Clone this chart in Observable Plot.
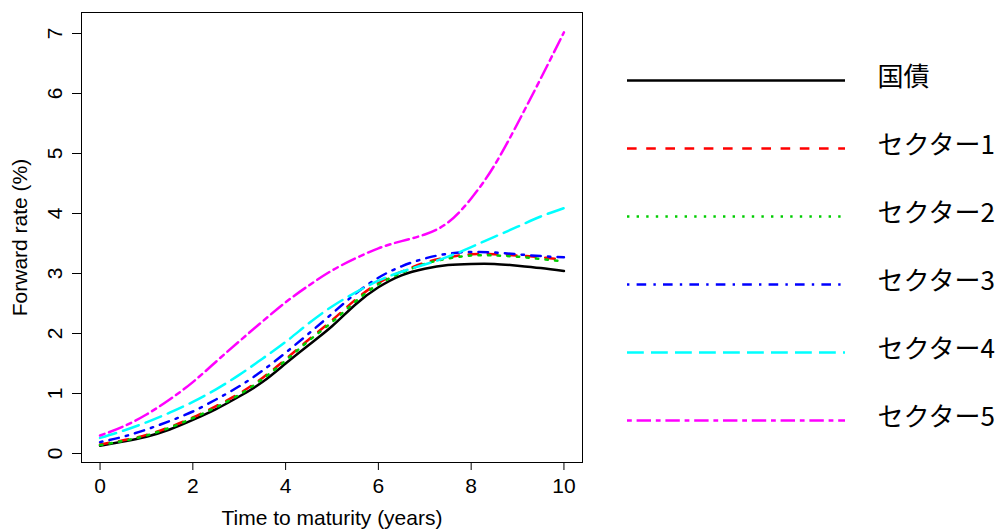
<!DOCTYPE html>
<html><head><meta charset="utf-8">
<script src="https://cdn.jsdelivr.net/npm/d3@7"></script>
<script src="https://cdn.jsdelivr.net/npm/@observablehq/plot@0.6"></script>
<style>
body{margin:0;background:#fff;}
#wrap{display:flex;width:1003px;height:532px;overflow:hidden;}
</style></head><body><div id="wrap"></div>
<script>
const maturity = [0,0.5,1,1.5,2,2.5,3,3.5,4,4.5,5,5.5,6,6.5,7,7.5,8,8.5,9,9.5,10];
const jgb     = [0.13,0.20,0.28,0.40,0.56,0.74,0.95,1.19,1.50,1.81,2.12,2.48,2.77,2.97,3.08,3.14,3.16,3.16,3.13,3.09,3.04];
const sector1 = [0.15,0.22,0.31,0.44,0.60,0.79,1.00,1.26,1.57,1.90,2.22,2.56,2.84,3.03,3.18,3.27,3.32,3.32,3.30,3.27,3.23];
const sector2 = [0.14,0.21,0.30,0.43,0.59,0.77,0.98,1.24,1.55,1.88,2.19,2.53,2.82,3.01,3.16,3.25,3.30,3.30,3.28,3.24,3.20];
const sector3 = [0.19,0.28,0.40,0.54,0.70,0.90,1.12,1.38,1.68,2.00,2.33,2.66,2.93,3.12,3.25,3.33,3.36,3.35,3.32,3.29,3.27];
const sector4 = [0.26,0.38,0.52,0.68,0.86,1.07,1.31,1.58,1.86,2.17,2.45,2.68,2.88,3.03,3.15,3.28,3.44,3.61,3.78,3.95,4.09];
const sector5 = [0.30,0.45,0.65,0.90,1.19,1.53,1.87,2.20,2.52,2.80,3.05,3.25,3.42,3.54,3.65,3.85,4.25,4.80,5.50,6.25,7.02];
const seriesNames = ["国債","セクター1","セクター2","セクター3","セクター4","セクター5"];
const xTicks = [0,2,4,6,8,10];
const yTicks = [0,1,2,3,4,5,6,7];

const seriesValues = [jgb, sector1, sector2, sector3, sector4, sector5];
const colors = ["#000000","#ff0000","#00cd00","#0000ff","#00ffff","#ff00ff"];
const dashes = [null,"9.6,9.6","2.4,7.2","2.4,7.2,9.6,7.2","16.8,7.2","4.8,4.8,14.4,4.8"];
const lw = 2.5;

const lineMarks = seriesValues.map((vals, i) =>
  Plot.line(maturity.map((m, j) => ({t: m, r: vals[j]})), {
    x: "t", y: "r", stroke: colors[i], strokeWidth: lw,
    strokeDasharray: dashes[i] || undefined, curve: "natural"
  })
);

const main = Plot.plot({
  width: 600, height: 532,
  marginLeft: 81, marginRight: 18, marginTop: 12, marginBottom: 70,
  style: {fontFamily: "'Liberation Sans', Arial, sans-serif", fontSize: "21px", color: "#000", background: "#fff"},
  x: {domain: [-0.4, 10.4]},
  y: {domain: [-0.15, 7.35]},
  marks: [
    ...lineMarks,
    Plot.frame({stroke: "#000", strokeWidth: 1}),
    Plot.axisX(xTicks, {tickSize: 8, tickPadding: 8, label: null}),
    Plot.axisY(yTicks, {tickSize: 9, tickFormat: () => "", label: null}),
    Plot.text(yTicks, {y: d => d, text: d => String(d), frameAnchor: "left", dx: -26, rotate: -90,
      textAnchor: "middle", lineAnchor: "middle"}),
    Plot.text(["Forward rate (%)"], {text: d => d, frameAnchor: "left", dx: -61, rotate: -90,
      textAnchor: "middle", lineAnchor: "middle"}),
    Plot.text(["Time to maturity (years)"], {text: d => d, frameAnchor: "bottom", dy: 56,
      textAnchor: "middle", lineAnchor: "middle"})
  ]
});

const legendMarks = [];
seriesNames.forEach((name, i) => {
  legendMarks.push(Plot.ruleY([name], {y: d => d, x1: 0, x2: 1, stroke: colors[i], strokeWidth: lw,
    strokeDasharray: dashes[i] || undefined}));
});
legendMarks.push(Plot.text(seriesNames, {x: 1, y: d => d, text: d => d, textAnchor: "start", dx: 32, dy: -3,
  fontSize: 26, fontFamily: "'Noto Sans CJK JP', sans-serif"}));

const legend = Plot.plot({
  width: 403, height: 532,
  margin: 0,
  style: {background: "#fff", color: "#000"},
  x: {domain: [0, 1], range: [27, 245], axis: null},
  y: {type: "point", domain: seriesNames, range: [79, 420], padding: 0, axis: null},
  marks: legendMarks
});

const wrap = document.getElementById("wrap");
wrap.appendChild(main);
wrap.appendChild(legend);
</script></body></html>
